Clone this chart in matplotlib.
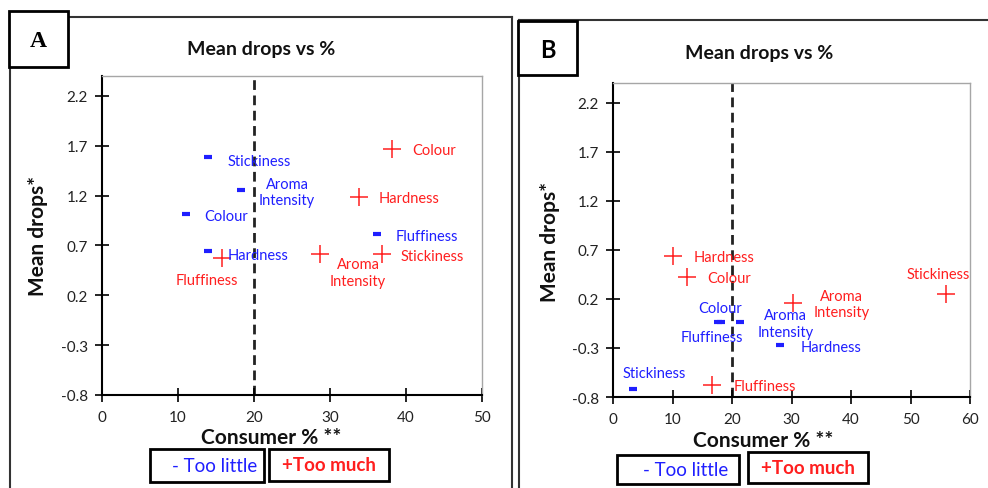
import matplotlib
matplotlib.use("Agg")
import matplotlib.pyplot as plt
from matplotlib.patches import Rectangle
from matplotlib.lines import Line2D

plt.rcParams['font.family'] = ['Lato', 'DejaVu Sans']
plt.rcParams['axes.unicode_minus'] = False

# ---------------- data ----------------
attributes = ['Stickiness', 'Aroma\nIntensity', 'Colour', 'Hardness', 'Fluffiness']

A_little_x = [13.9, 18.3, 11.1, 13.9, 36.2]
A_little_y = [1.59, 1.26, 1.02, 0.64, 0.82]
A_much_x = [36.8, 28.7, 38.1, 33.8, 15.8]
A_much_y = [0.61, 0.61, 1.67, 1.19, 0.57]

B_little_x = [3.3, 21.4, 18.2, 28.0, 17.6]
B_little_y = [-0.72, -0.04, -0.04, -0.27, -0.04]
B_much_x = [56.0, 30.2, 12.4, 10.1, 16.6]
B_much_y = [0.25, 0.16, 0.42, 0.64, -0.68]

y_ticks = [-0.8, -0.3, 0.2, 0.7, 1.2, 1.7, 2.2]
y_ticklabels = ['-0.8', '-0.3', '0.2', '0.7', '1.2', '1.7', '2.2']
A_x_ticks = [0, 10, 20, 30, 40, 50]
B_x_ticks = [0, 10, 20, 30, 40, 50, 60]
threshold = 20

# label offsets (pixels: dx right, dy down) and alignment
A_little_off = [(20, 4, 'left'), (46, 2, 'center'), (18, 2, 'left'), (20, 4, 'left'), (19, 2, 'left')]
A_much_off = [(19, 2, 'left'), (38, 18, 'center'), (21, 1, 'left'), (20, 1, 'left'), (-15, 22, 'center')]
B_little_off = [(22, -16, 'center'), (45, 1, 'center'), (-1, -14, 'center'), (21, 2, 'left'), (-6, 15, 'center')]
B_much_off = [(-8, -20, 'center'), (49, 1, 'center'), (20, 1, 'left'), (21, 1, 'left'), (22, 1, 'left')]

W, H = 988, 489
BLUE = '#1f1fff'
RED = '#ff1f1f'

fig = plt.figure(figsize=(W / 100, H / 100), dpi=100)


def fx(x):
    return x / W


def fy(y):
    return 1 - y / H


def axes_box(l, t, r, b):
    return [fx(l), fy(b), (r - l) / W, (b - t) / H]


def make_panel(rect, xt, lx, ly, lo, mx, my, mo):
    ax = fig.add_axes(rect)
    ax.set_xlim(xt[0], xt[-1])
    ax.set_ylim(-0.8, 2.4)
    ax.set_xticks(xt)
    ax.set_xticklabels([str(v) for v in xt])
    ax.set_yticks(y_ticks)
    ax.set_yticklabels(y_ticklabels)
    ax.tick_params(direction='inout', length=10, width=1.2, labelsize=11,
                   colors='black', labelcolor='#222222')
    ax.tick_params(axis='y', pad=5)
    ax.tick_params(axis='x', pad=6)
    for s in ['top', 'right']:
        ax.spines[s].set_color('#a6a6a6')
        ax.spines[s].set_linewidth(1.0)
    for s in ['left', 'bottom']:
        ax.spines[s].set_color('black')
        ax.spines[s].set_linewidth(1.5)
    ax.axvline(threshold, color='#222222', ls=(0, (3.5, 2.0)), lw=2.0, zorder=1)
    ax.plot(lx, ly, ls='none', marker='_', ms=6, mew=3.0, color=BLUE, zorder=3)
    ax.plot(mx, my, ls='none', marker='+', ms=13, mew=1.1, color=RED, zorder=3)
    for name, x, y, (dx, dy, ha) in zip(attributes, lx, ly, lo):
        ax.annotate(name, (x, y), xytext=(dx, -dy), textcoords='offset pixels',
                    ha=ha, va='center', color=BLUE, fontsize=10.5,
                    linespacing=1.2, multialignment='center', zorder=4)
    for name, x, y, (dx, dy, ha) in zip(attributes, mx, my, mo):
        ax.annotate(name, (x, y), xytext=(dx, -dy), textcoords='offset pixels',
                    ha=ha, va='center', color=RED, fontsize=10.5,
                    linespacing=1.2, multialignment='center', zorder=4)
    return ax


make_panel(axes_box(102, 77, 482, 396), A_x_ticks,
           A_little_x, A_little_y, A_little_off, A_much_x, A_much_y, A_much_off)
make_panel(axes_box(613, 84, 970, 398), B_x_ticks,
           B_little_x, B_little_y, B_little_off, B_much_x, B_much_y, B_much_off)


def fline(xs, ys, lw=1.5, color='#333333'):
    fig.add_artist(Line2D([fx(x) for x in xs], [fy(y) for y in ys],
                          transform=fig.transFigure, color=color, lw=lw))


def fbox(l, t, r, b, lw=2.0):
    fig.add_artist(Rectangle((fx(l), fy(b)), (r - l) / W, (b - t) / H,
                             transform=fig.transFigure, fill=True, fc='white',
                             ec='black', lw=lw, zorder=5))


# panel frames
fline([10, 10], [18, 489])
fline([10, 512], [18, 18])
fline([512, 512], [18, 489])
fline([519, 519], [21, 489])
fline([519, 988], [21, 21])

# panel letter boxes
fbox(9, 12, 68, 68)
fig.text(fx(38), fy(42), 'A', family='Liberation Serif', fontweight='bold',
         fontsize=17, ha='center', va='center', zorder=6)
fbox(518, 22, 577, 76)
fig.text(fx(548), fy(50), 'B', fontweight='bold', fontsize=17,
         ha='center', va='center', zorder=6)

# titles and axis labels
for x, y in [(261, 50), (759, 53)]:
    fig.text(fx(x), fy(y), 'Mean drops vs %', fontweight='bold', fontsize=14,
             ha='center', va='center', color='#111111')
for x, y in [(38, 236), (550, 242)]:
    fig.text(fx(x), fy(y), 'Mean drops*', fontweight='bold', fontsize=15,
             rotation=90, ha='center', va='center', color='#111111')
for x, y in [(271, 438), (763, 441)]:
    fig.text(fx(x), fy(y), 'Consumer % **', fontweight='bold', fontsize=15,
             ha='center', va='center', color='#111111')

# legend boxes
for (l, t, r, b) in [(150, 450, 264, 483), (617, 456, 739, 485)]:
    fbox(l, t, r, b)
    fig.text(fx((l + r) / 2 + 8), fy((t + b) / 2), '- Too little', color=BLUE,
             fontsize=13.5, ha='center', va='center', zorder=6)
for (l, t, r, b) in [(269, 450, 389, 482), (748, 453, 868, 484)]:
    fbox(l, t, r, b)
    fig.text(fx((l + r) / 2), fy((t + b) / 2), '+Too much', color=RED,
             fontsize=13.5, fontweight='bold', ha='center', va='center', zorder=6)

fig.savefig('out.png', dpi=100)
